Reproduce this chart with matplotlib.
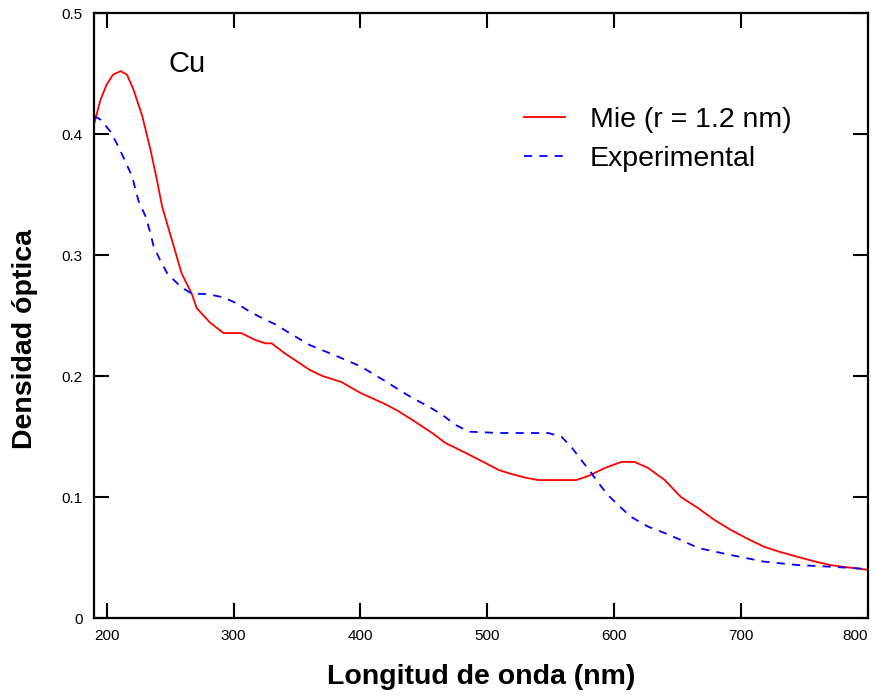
import matplotlib
matplotlib.use("Agg")
import matplotlib.pyplot as plt

# Mie (r = 1.2 nm) theoretical curve
mie_x = [190, 195, 200, 205, 211, 216, 221, 228, 234.5, 239, 243.7, 251.5, 259, 267, 271,
         281.6, 292, 306, 317, 325, 330, 340, 350, 360, 370, 385, 400, 420, 430.6, 441,
         456.5, 467, 483, 498.6, 509, 519, 530, 540, 555, 570, 579.6, 592.7, 605.6,
         616, 626.7, 639.8, 652.5, 666, 679, 692, 705, 718, 731, 744, 757, 770, 783, 800]
mie_y = [0.408, 0.428, 0.441, 0.449, 0.452, 0.449, 0.437, 0.415, 0.387, 0.365, 0.340,
         0.312, 0.285, 0.268, 0.256, 0.244, 0.2355, 0.2355, 0.2298, 0.227, 0.227, 0.219,
         0.212, 0.205, 0.200, 0.195, 0.186, 0.1765, 0.1705, 0.1636, 0.1529, 0.1446,
         0.1364, 0.128, 0.1223, 0.119, 0.116, 0.114, 0.114, 0.114, 0.1174, 0.124, 0.129,
         0.129, 0.124, 0.114, 0.100, 0.0909, 0.081, 0.0727, 0.0655, 0.0589, 0.0545,
         0.0507, 0.047, 0.0438, 0.042, 0.0398]

# Experimental curve
exp_x = [190, 195, 203, 208, 213.5, 220, 225, 230.6, 234.5, 237, 242, 247.6, 258, 267,
         279, 292, 302.5, 313, 323, 334, 344, 360, 380, 400, 420, 430.6, 441, 454, 464.6,
         475, 485.5, 509, 530, 548, 558.4, 566, 574, 582, 587.5, 595, 603, 613, 626.7,
         639.8, 652.5, 666, 692, 718, 744, 770, 800]
exp_y = [0.415, 0.412, 0.402, 0.392, 0.380, 0.365, 0.345, 0.332, 0.318, 0.307, 0.296,
         0.285, 0.274, 0.268, 0.2678, 0.265, 0.260, 0.253, 0.2476, 0.2421, 0.2355, 0.2256,
         0.217, 0.208, 0.1955, 0.1884, 0.1818, 0.1746, 0.1678, 0.1595, 0.154, 0.1529,
         0.1529, 0.1529, 0.1498, 0.1416, 0.1306, 0.1198, 0.1116, 0.1017, 0.0934, 0.0837,
         0.0755, 0.0702, 0.0645, 0.0579, 0.052, 0.0466, 0.0438, 0.0424, 0.0405]

x_ticks = [200, 300, 400, 500, 600, 700, 800]
y_ticks = [0, 0.1, 0.2, 0.3, 0.4, 0.5]
y_ticklabels = ["0", "0.1", "0.2", "0.3", "0.4", "0.5"]

plt.rcParams['font.family'] = ['Liberation Sans', 'DejaVu Sans']

fig = plt.figure(figsize=(8.75, 6.96), dpi=100)
ax = fig.add_axes([94/875, 1 - 618/696, (868-94)/875, (618-13)/696])

ax.plot(mie_x, mie_y, color='#ff0000', lw=1.3, label='Mie (r = 1.2 nm)')
ax.plot(exp_x, exp_y, color='#0000ff', lw=1.3, dashes=(4.5, 4), label='Experimental')

ax.set_xlim(190, 800)
ax.set_ylim(0, 0.5)
ax.set_xticks(x_ticks)
ax.set_yticks(y_ticks)
ax.set_yticklabels(y_ticklabels)
ax.tick_params(direction='in', length=11, width=1.5, top=True, right=True,
               labelsize=11, pad=8)
for s in ax.spines.values():
    s.set_linewidth(1.6)
ax.get_xticklabels()[-1].set_horizontalalignment('right')

ax.set_xlabel('Longitud de onda (nm)', fontsize=20.5, fontweight='bold', labelpad=15)
ax.set_ylabel('Densidad óptica', fontsize=20.5, fontweight='bold')
ax.yaxis.set_label_coords((38-94)/774, 0.461)

ax.text((168-94)/774, (618-64)/605, 'Cu', transform=ax.transAxes, fontsize=21,
        ha='left', va='center')

leg = ax.legend(loc='upper left', bbox_to_anchor=((524-94)/774, (618-107)/605),
                frameon=False, fontsize=20.5, handlelength=1.44, handletextpad=0.88,
                labelspacing=0.47, borderpad=0, borderaxespad=0)

fig.savefig('out.png', dpi=100)
